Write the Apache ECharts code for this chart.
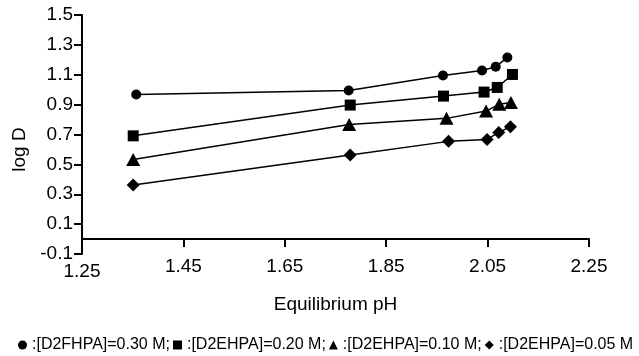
<!DOCTYPE html>
<html>
<head>
<meta charset="utf-8">
<script src="https://cdn.jsdelivr.net/npm/echarts@6/dist/echarts.min.js"></script>
<style>
  html, body { margin: 0; padding: 0; background: #fff; }
  #chart { width: 639px; height: 356px; }
</style>
</head>
<body>
<div id="chart"></div>
<script>
// series labels and markers
const seriesNames = [':[D2FHPA]=0.30 M;', ':[D2EHPA]=0.20 M;', ':[D2EHPA]=0.10 M;', ':[D2EHPA]=0.05 M'];
const symbols = ['circle', 'rect', 'triangle', 'diamond'];
const symbolSizes = [10, 11, [14, 13], 13];

// equilibrium pH per series
const ph030 = [1.357, 1.776, 1.962, 2.039, 2.066, 2.089];
const ph020 = [1.351, 1.779, 1.963, 2.043, 2.069, 2.099];
const ph010 = [1.351, 1.777, 1.969, 2.047, 2.073, 2.096];
const ph005 = [1.351, 1.779, 1.973, 2.049, 2.072, 2.095];

// log D per series
const logD030 = [0.968, 0.995, 1.095, 1.129, 1.153, 1.216];
const logD020 = [0.691, 0.897, 0.957, 0.984, 1.015, 1.102];
const logD010 = [0.533, 0.767, 0.808, 0.857, 0.903, 0.915];
const logD005 = [0.362, 0.562, 0.654, 0.667, 0.714, 0.752];

const phs = [ph030, ph020, ph010, ph005];
const logDs = [logD030, logD020, logD010, logD005];

const chart = echarts.init(document.getElementById('chart'));

const font = 'Liberation Sans, Arial, sans-serif';
const tick = { show: true, length: 8, lineStyle: { color: '#000', width: 2 } };

chart.setOption({
  backgroundColor: '#fff',
  animation: false,
  grid: {
    left: 82,
    right: 50,
    top: 15,
    bottom: 102
  },
  legend: {
    left: 13,
    top: 332,
    itemWidth: 9,
    itemHeight: 9,
    itemGap: 3,
    data: seriesNames.map((n, i) => ({ name: n, icon: symbols[i] })),
    textStyle: {
      fontFamily: 'Liberation Sans Narrow, Arial Narrow, sans-serif',
      fontSize: 16,
      color: '#000'
    }
  },
  xAxis: {
    type: 'value',
    min: 1.25,
    max: 2.25,
    interval: 0.2,
    name: 'Equilibrium pH',
    nameLocation: 'middle',
    nameGap: 41,
    nameTextStyle: { fontFamily: font, fontSize: 19, color: '#000' },
    axisLine: { onZero: true, lineStyle: { color: '#000', width: 2 } },
    axisTick: tick,
    splitLine: { show: false },
    axisLabel: {
      margin: 3,
      fontFamily: font,
      fontSize: 19,
      color: '#000',
      formatter: v => Math.abs(v - 1.25) < 1e-6 ? '{low|' + v.toFixed(2) + '}' : v.toFixed(2),
      rich: { low: { fontFamily: font, fontSize: 19, color: '#000', padding: [5, 0, 0, 0] } }
    }
  },
  yAxis: {
    type: 'value',
    min: -0.1,
    max: 1.5,
    interval: 0.2,
    name: 'log D',
    nameLocation: 'middle',
    nameGap: 48,
    nameTextStyle: { fontFamily: font, fontSize: 19, color: '#000', padding: [0, 30, 0, 0] },
    axisLine: { show: true, lineStyle: { color: '#000', width: 2 } },
    axisTick: tick,
    splitLine: { show: false },
    axisLabel: {
      margin: 9,
      fontFamily: font,
      fontSize: 19,
      color: '#000',
      formatter: v => v.toFixed(1)
    }
  },
  series: seriesNames.map((n, i) => ({
    name: n,
    type: 'line',
    symbol: symbols[i],
    symbolSize: symbolSizes[i],
    showAllSymbol: true,
    itemStyle: { color: '#000' },
    lineStyle: { color: '#000', width: 1.5 },
    data: phs[i].map((x, j) => [x, logDs[i][j]])
  }))
});
</script>
</body>
</html>
